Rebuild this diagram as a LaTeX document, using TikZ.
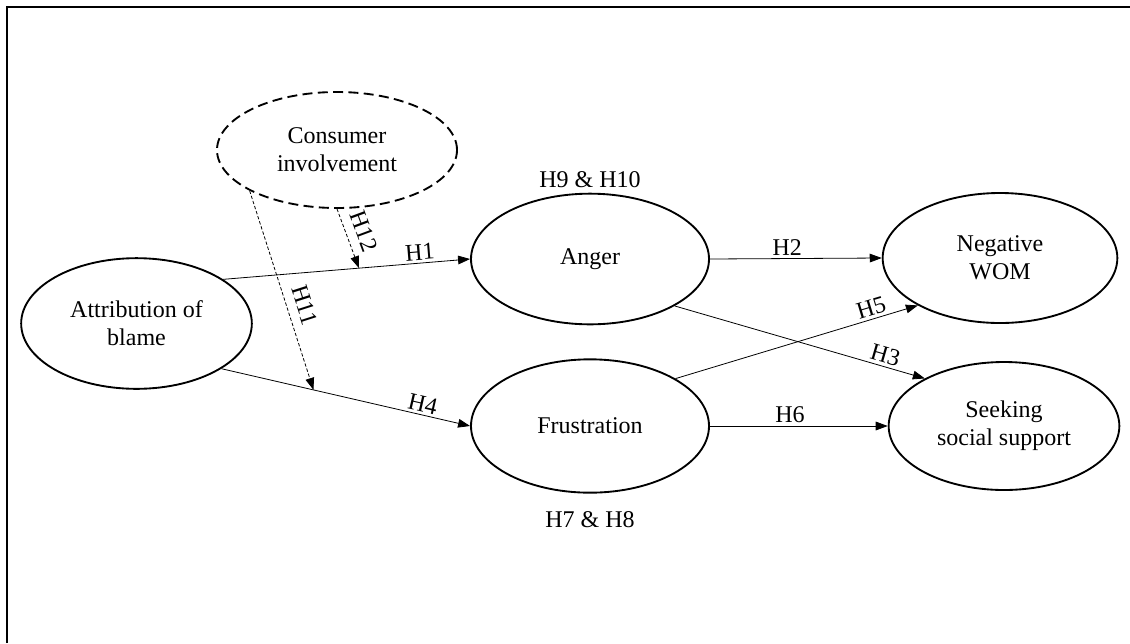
\documentclass[tikz,border=0pt]{standalone}
\usepackage{fontspec}
\setmainfont{Liberation Serif}
\usetikzlibrary{shapes.geometric,arrows.meta}
\begin{document}
\begin{tikzpicture}[x=0.75pt,y=-0.75pt,
  font=\fontsize{18}{21}\selectfont,
  var/.style={ellipse,draw,line width=1.4pt,inner sep=0pt,align=center},
  arr/.style={-{Triangle[length=9pt,width=6.5pt]},line width=0.6pt},
  modarr/.style={-{Triangle[length=9pt,width=6.5pt]},line width=0.6pt,dash pattern=on 2.5pt off 1.5pt},
  lab/.style={sloped,above,inner sep=2pt},
  modlab/.style={sloped,above=5pt,inner sep=2pt}]
\useasboundingbox (0,0) rectangle (1130,643);
\draw[line width=2pt] (7,643) -- (7,7) -- (1130,7);

\node[var,minimum width=173pt,minimum height=98pt] (attr) at (136.5,323.5) {Attribution of\\blame};
\node[var,dash pattern=on 7.5pt off 4pt,minimum width=180pt,minimum height=87pt] (cons) at (337,150) {Consumer\\involvement};
\node[var,minimum width=178.5pt,minimum height=98pt] (anger) at (590,259) {Anger};
\node[var,minimum width=178.5pt,minimum height=100pt] (frus) at (590,426) {Frustration};
\node[var,minimum width=176pt,minimum height=97.5pt] (nwom) at (1000,258) {Negative\\WOM};
\node[var,minimum width=173pt,minimum height=96pt] (sss) at (1004,426) {Seeking\\social support};
\node (h910) at (590,180) {H9 \& H10};
\node (h78) at (590,520) {H7 \& H8};

\draw[arr] (attr.27) -- coordinate[pos=0.55] (m1) node[lab,pos=0.8] {H1} (anger.west);
\draw[arr] (attr.-28) -- coordinate[pos=0.37] (m4) node[lab,pos=0.8] {H4} (frus.west);
\draw[arr] (anger.east) -- node[lab,pos=0.45] {H2} (nwom.west);
\draw[arr] (frus.east) -- node[lab,pos=0.45] {H6} (sss.west);
\draw[arr] (anger.-29) -- node[lab,pos=0.83] {H3} (sss.149);
\draw[arr] (frus.29) -- node[lab,pos=0.82] {H5} (nwom.210);
\draw[modarr] (cons.south) -- node[modlab,pos=0.48] {H12} (m1);
\draw[modarr] (cons.205) -- node[modlab,pos=0.6] {H11} (m4);
\end{tikzpicture}
\end{document}
